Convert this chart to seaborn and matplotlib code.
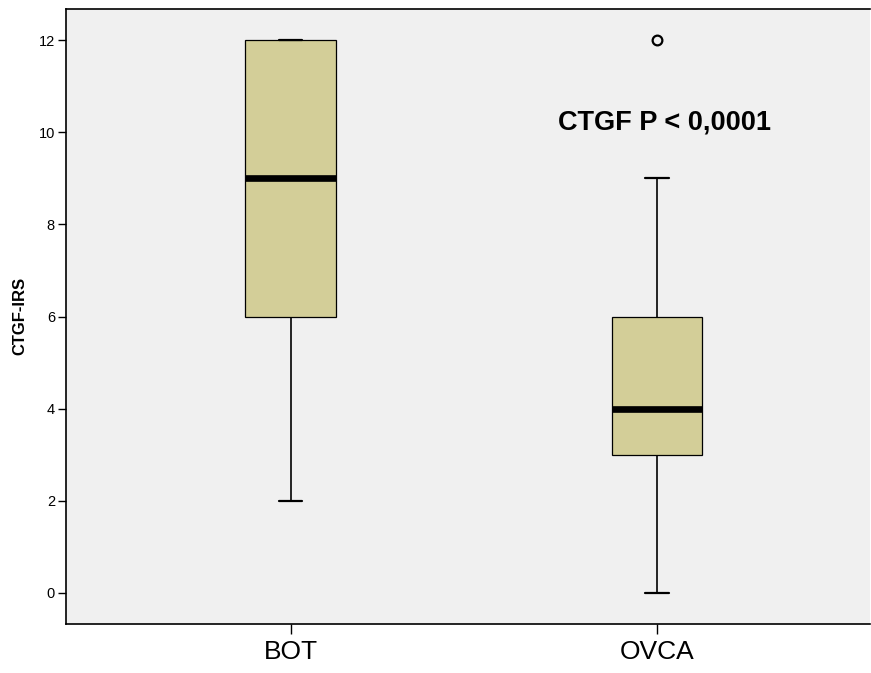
import matplotlib
matplotlib.use("Agg")
import matplotlib.pyplot as plt
import seaborn as sns
import pandas as pd

# IRS scores per tumour group
groups = ["BOT", "OVCA"]
bot_scores = [2, 6, 9, 12, 12]
ovca_scores = [0, 3, 3, 4, 4, 6, 6, 9, 12]

y_ticks = [0, 2, 4, 6, 8, 10, 12]
y_label = "CTGF-IRS"
annotation = "CTGF P < 0,0001"

df = pd.DataFrame({
    "group": [groups[0]] * len(bot_scores) + [groups[1]] * len(ovca_scores),
    "score": bot_scores + ovca_scores,
})

sns.set_theme(style="white")
plt.rcParams["font.family"] = ["Liberation Sans", "DejaVu Sans"]
plt.rcParams["text.color"] = "black"
plt.rcParams["axes.labelcolor"] = "black"
plt.rcParams["xtick.color"] = "black"
plt.rcParams["ytick.color"] = "black"

fig = plt.figure(figsize=(8.71, 6.73), dpi=100)
ax = fig.add_axes([66 / 871, 1 - 623.5 / 673, (870 - 66) / 871, (623.5 - 9) / 673])
ax.set_facecolor("#f0f0f0")

sns.boxplot(
    data=df, x="group", y="score", order=groups, ax=ax,
    color="#d3ce98", saturation=1, width=0.248, whis=1.5,
    linecolor="black", linewidth=1.0,
    boxprops=dict(edgecolor="black", linewidth=0.9),
    medianprops=dict(color="black", linewidth=4.8, solid_capstyle="butt"),
    whiskerprops=dict(color="black", linewidth=1.2),
    capprops=dict(color="black", linewidth=1.6),
    flierprops=dict(marker="o", markersize=7, markerfacecolor="none",
                    markeredgecolor="black", markeredgewidth=1.6),
    capwidths=0.065,
)

ax.set_xlim(-0.6125, 1.581)
ax.set_ylim(-0.662, 12.673)
ax.set_yticks(y_ticks)
ax.set_yticklabels([str(t) for t in y_ticks], fontsize=10.5, color="black")
ax.tick_params(axis="x", labelsize=19, length=7, width=1, direction="out",
               color="black", labelcolor="black", pad=5, bottom=True)
ax.tick_params(axis="y", length=6, width=1, direction="out", color="black",
               labelcolor="black", pad=2, left=True)
ax.set_xlabel("")
ax.set_ylabel(y_label, fontsize=12, fontweight="bold", labelpad=8, color="black")

for side in ["left", "bottom", "top"]:
    ax.spines[side].set_visible(True)
    ax.spines[side].set_color("black")
    ax.spines[side].set_linewidth(1.2)
ax.spines["right"].set_visible(False)

ax.text(1.019, 10.2, annotation, ha="center", va="center",
        fontsize=19.5, fontweight="bold", color="black")

fig.savefig("out.png", dpi=100)
